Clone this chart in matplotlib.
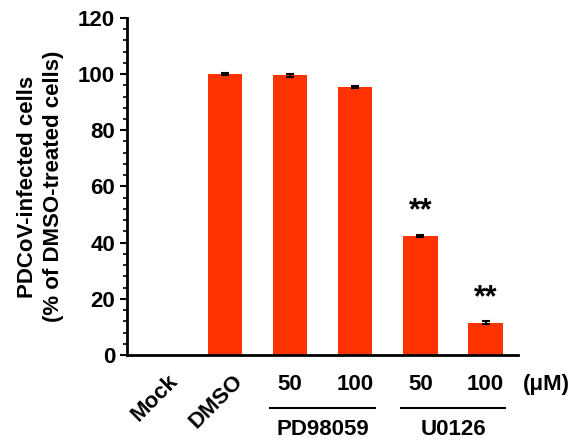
import matplotlib
matplotlib.use("Agg")
import matplotlib.pyplot as plt
from matplotlib.ticker import MultipleLocator

plt.rcParams['font.family'] = ['Liberation Sans', 'DejaVu Sans']
plt.rcParams['font.weight'] = 'bold'

categories = ["Mock", "DMSO", "50", "100", "50", "100"]
values = [0, 100, 99.5, 95.5, 42.5, 11.5]
errors = [0, 0.4, 0.4, 0.4, 0.4, 0.5]
signif = ["", "", "", "", "**", "**"]
groups = [("PD98059", 2, 3), ("U0126", 4, 5)]
yticks = [0, 20, 40, 60, 80, 100, 120]

fig = plt.figure(figsize=(5.72, 4.45), dpi=100)
ax = fig.add_axes([0.222, 0.202, 0.684, 0.758])

x = list(range(len(categories)))
ax.bar(x, values, width=0.53, color="#FF3300", zorder=2)
ax.errorbar(x[1:], values[1:], yerr=errors[1:], fmt="none", ecolor="black",
            elinewidth=1.5, capsize=3, capthick=1.5, zorder=3)

for xi, v, e, s in zip(x, values, errors, signif):
    if s:
        ax.text(xi, v + e + 3, s, ha="center", va="bottom", fontsize=22,
                fontweight="bold", color="black")

ax.set_xlim(-0.5, 5.5)
ax.set_ylim(0, 120)
ax.set_yticks(yticks)
ax.yaxis.set_minor_locator(MultipleLocator(4))
ax.tick_params(axis="y", which="major", length=5, width=1.5, labelsize=16, direction="out")
ax.tick_params(axis="y", which="minor", length=3, width=1.2, direction="out")
for lab in ax.get_yticklabels():
    lab.set_fontweight("bold")

ax.set_xticks(x)
ax.set_xticklabels([])
ax.tick_params(axis="x", length=0)

for sp in ["top", "right"]:
    ax.spines[sp].set_visible(False)
for sp in ["left", "bottom"]:
    ax.spines[sp].set_linewidth(2)

ax.set_ylabel("PDCoV-infected cells\n(% of DMSO-treated cells)", fontsize=16,
              fontweight="bold", labelpad=10, linespacing=1.3)

trans = ax.get_xaxis_transform()
for xi, c in zip(x, categories):
    if c in ("Mock", "DMSO"):
        ax.text(xi + 0.12, -0.045, c, rotation=45, ha="right", va="top",
                fontsize=16, fontweight="bold", transform=trans, rotation_mode="anchor")
    else:
        ax.text(xi, -0.088, c, ha="center", va="center", fontsize=16,
                fontweight="bold", transform=trans)
ax.text(5.93, -0.088, "(μM)", ha="center", va="center", fontsize=16,
        fontweight="bold", transform=trans, clip_on=False)

for name, a, b in groups:
    ax.plot([a - 0.3, b + 0.3], [-0.157, -0.157], color="black", lw=1.5,
            transform=trans, clip_on=False)
    ax.text((a + b) / 2, -0.222, name, ha="center", va="center", fontsize=16,
            fontweight="bold", transform=trans)

fig.savefig("out.png", dpi=100)
